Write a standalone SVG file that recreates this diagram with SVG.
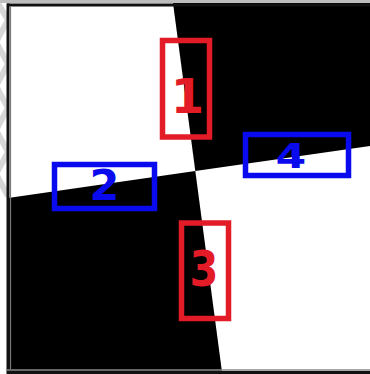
<svg xmlns="http://www.w3.org/2000/svg" width="370" height="374" viewBox="0 0 370 374">
  <style>
    .red { fill: none; stroke: #e31b26; stroke-width: 5.5; }
    .blue { fill: none; stroke: #0a0aee; stroke-width: 5.5; }
    .lbl { font-family: "DejaVu Sans", "Liberation Sans", sans-serif; font-weight: bold; text-anchor: middle; }
    .lr { fill: #e31b26; }
    .lb { fill: #0a0aee; }
  </style>
  <defs>
    <clipPath id="wm"><rect x="0" y="0" width="7" height="374"/></clipPath>
  </defs>
  <rect x="0" y="0" width="370" height="374" fill="#ffffff"/>
  <!-- watermark marks at left edge -->
  <polyline clip-path="url(#wm)" points="-4,0 8,20 -4,42 8,64 -4,86 8,108 -4,130 8,152 -4,174 8,196" fill="none" stroke="#d6d6d6" stroke-width="6"/>
  <!-- image -->
  <g id="image">
    <rect x="8" y="5" width="362" height="367" fill="#ffffff"/>
    <polygon points="173,3 370,3 370,146 195.3,171.1" fill="#000000"/>
    <polygon points="8,198 195.3,171.1 222,372 8,372" fill="#000000"/>
    <line x1="0" y1="1.5" x2="370" y2="1.5" stroke="#bdbdbd" stroke-width="3"/>
    <line x1="7" y1="5" x2="370" y2="5" stroke="#111111" stroke-width="3"/>
    <line x1="8" y1="3.5" x2="8" y2="374" stroke="#111111" stroke-width="3"/>
    <line x1="10.5" y1="7" x2="10.5" y2="369" stroke="#7a7a7a" stroke-width="1.2"/>
    <line x1="7" y1="370" x2="370" y2="370" stroke="#8a8a8a" stroke-width="1.5"/>
    <line x1="7" y1="372.5" x2="370" y2="372.5" stroke="#111111" stroke-width="3"/>
  </g>
  <g id="node1">
    <rect class="red" x="162.5" y="40.5" width="47" height="96.5"/>
    <text class="lbl lr" x="187.5" y="113" font-size="48">1</text>
  </g>
  <g id="node2">
    <rect class="blue" x="54.5" y="164.5" width="100" height="44"/>
    <text class="lbl lb" x="104.5" y="200" font-size="43">2</text>
  </g>
  <g id="node3">
    <rect class="red" x="181.5" y="223" width="47" height="95.5"/>
    <text class="lbl lr" transform="translate(204,286) scale(0.85,1)" x="0" y="0" font-size="49">3</text>
  </g>
  <g id="node4">
    <rect class="blue" x="245.5" y="134.5" width="103" height="41"/>
    <text class="lbl lb" transform="translate(291,168) scale(1.3,1)" x="0" y="0" font-size="34">4</text>
  </g>
  <g id="connectors"></g>
</svg>
